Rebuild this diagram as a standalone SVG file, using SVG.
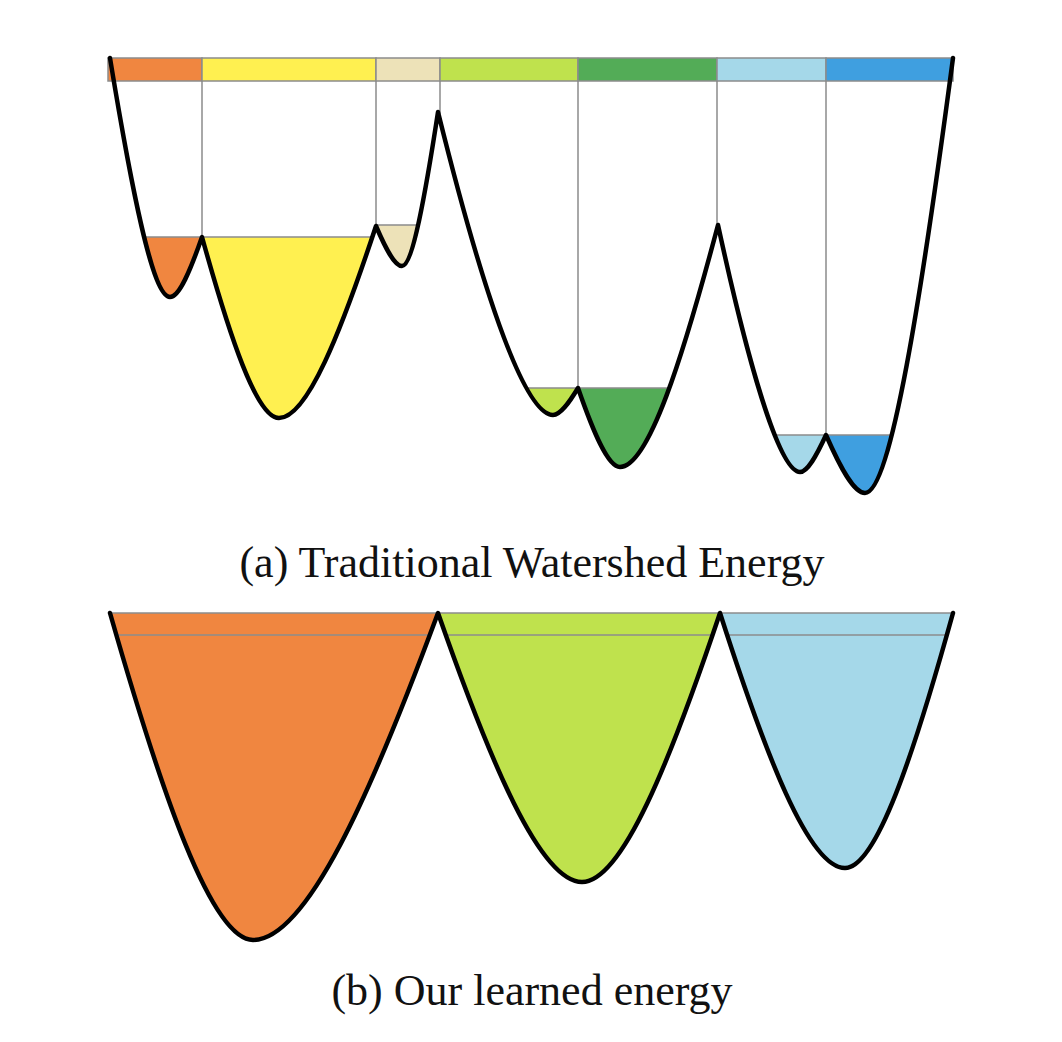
<svg xmlns="http://www.w3.org/2000/svg" width="1062" height="1042" viewBox="0 0 1062 1042">
  <style>
    .curve { fill: none; stroke: #000; stroke-width: 4.5; stroke-linejoin: round; stroke-linecap: round; }
    .grid { stroke: #8c8c8c; stroke-width: 1.5; fill: none; }
    .bar { stroke: #8c8c8c; stroke-width: 1.5; }
    .caption { font-family: "Liberation Serif", "Times New Roman", serif; font-size: 44px; fill: #111; text-anchor: middle; }
    .orange { fill: #f08640; }
    .yellow { fill: #fff050; }
    .beige { fill: #ede2b8; }
    .lgreen { fill: #bfe24d; }
    .dgreen { fill: #53ac57; }
    .lblue { fill: #a5d8e9; }
    .blue { fill: #3f9fe0; }
  </style>
  <defs>
    <path id="curveA" d="M110,58 C131.6,189.5 152.6,297 170,297 C179.3,297 190.5,270 202,237 C229.7,336.6 256.7,418 279,418 C307.1,418 341.1,331.6 376,226 C385.4,248 394.5,266 402,266 C412.4,266 425,196.7 438,112 C479.4,278.7 522.6,415 553,415 C560.3,415 569,402.9 578,388 C593.1,431.5 607.8,467 620,467 C648.4,467 682.7,358.1 718,225 C747.5,360.9 779.2,472 800,472 C807.5,472 816.6,455.4 826,435 C840,466.9 853.7,493 865,493 C890.5,493 921.3,297.3 953,58"/>
    <path id="curveB" d="M110,613 C161.5,792.9 211.5,940 253,940 C306.7,940 371.4,792.9 438,613 C489.8,761 540.2,882 582,882 C622,882 670.3,761 720,613 C765,753.3 808.7,868 845,868 C876.3,868 914.1,753.3 953,613"/>
    <clipPath id="clipA">
      <path d="M110,58 C131.6,189.5 152.6,297 170,297 C179.3,297 190.5,270 202,237 C229.7,336.6 256.7,418 279,418 C307.1,418 341.1,331.6 376,226 C385.4,248 394.5,266 402,266 C412.4,266 425,196.7 438,112 C479.4,278.7 522.6,415 553,415 C560.3,415 569,402.9 578,388 C593.1,431.5 607.8,467 620,467 C648.4,467 682.7,358.1 718,225 C747.5,360.9 779.2,472 800,472 C807.5,472 816.6,455.4 826,435 C840,466.9 853.7,493 865,493 C890.5,493 921.3,297.3 953,58 Z"/>
    </clipPath>
    <clipPath id="clipB">
      <path d="M110,613 C161.5,792.9 211.5,940 253,940 C306.7,940 371.4,792.9 438,613 C489.8,761 540.2,882 582,882 C622,882 670.3,761 720,613 C765,753.3 808.7,868 845,868 C876.3,868 914.1,753.3 953,613 Z"/>
    </clipPath>
  </defs>

  <g id="panel-a">
    <g id="basins-a" clip-path="url(#clipA)">
      <rect class="orange" x="100" y="237" width="102" height="80"/>
      <rect class="yellow" x="202" y="237" width="174" height="200"/>
      <rect class="beige" x="376" y="225" width="64" height="60"/>
      <rect class="lgreen" x="440" y="388" width="138" height="50"/>
      <rect class="dgreen" x="578" y="388" width="140" height="100"/>
      <rect class="lblue" x="718" y="435" width="108" height="60"/>
      <rect class="blue" x="826" y="435" width="140" height="80"/>
      <path class="grid" d="M100,237 H376 M376,225 H440 M440,388 H718 M718,435 H960"/>
    </g>
    <g id="dividers-a">
      <path class="grid" d="M202,81 V237 M376,81 V226 M440,81 V114 M578,81 V388 M717,81 V225 M826,81 V435"/>
    </g>
    <g id="label-bar">
      <rect class="bar orange" x="108" y="58" width="94" height="23"/>
      <rect class="bar yellow" x="202" y="58" width="174" height="23"/>
      <rect class="bar beige" x="376" y="58" width="64" height="23"/>
      <rect class="bar lgreen" x="440" y="58" width="138" height="23"/>
      <rect class="bar dgreen" x="578" y="58" width="139" height="23"/>
      <rect class="bar lblue" x="717" y="58" width="109" height="23"/>
      <rect class="bar blue" x="826" y="58" width="127" height="23"/>
    </g>
    <g id="energy-curve-a">
      <use href="#curveA" class="curve"/>
    </g>
    <text id="caption-a" class="caption" x="532" y="577">(a) Traditional Watershed Energy</text>
  </g>

  <g id="panel-b">
    <g id="basins-b" clip-path="url(#clipB)">
      <rect class="orange" x="100" y="613" width="338" height="340"/>
      <rect class="lgreen" x="438" y="613" width="282" height="340"/>
      <rect class="lblue" x="720" y="613" width="240" height="340"/>
      <path class="grid" d="M100,635 H960"/>
    </g>
    <g id="top-line-b">
      <path class="grid" d="M108,613 H953"/>
    </g>
    <g id="energy-curve-b">
      <use href="#curveB" class="curve"/>
    </g>
    <text id="caption-b" class="caption" x="532" y="1005">(b) Our learned energy</text>
  </g>
</svg>
